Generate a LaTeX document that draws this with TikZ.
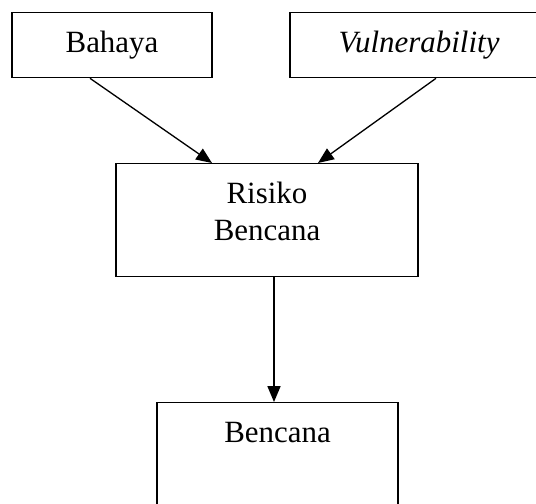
\documentclass[tikz,border=0pt]{standalone}
\usepackage{fontspec}
\setmainfont{Liberation Serif}
\usepackage{tikz}
\usetikzlibrary{arrows.meta}

\tikzset{
  box/.style={draw, line width=0.75pt, rectangle, anchor=north, inner sep=0pt,
    text height=0.8cm, align=center,
    font=\fontsize{17.6}{21}\selectfont},
  link/.style={line width=0.75pt, -{Triangle[length=9pt,width=7.4pt]}}
}

\begin{document}
\begin{tikzpicture}
\useasboundingbox (0,0) rectangle (10.72,10.06);
\clip (0,0) rectangle (10.72,10.06);

\node[box, minimum width=4cm, text depth=0.5cm] (bahaya) at (2.24,9.82) {Bahaya};
\node[box, minimum width=5.16cm, text depth=0.5cm] (vuln) at (8.38,9.82) {\textit{Vulnerability}};
\node[box, minimum width=6.04cm, text depth=1.46cm] (risiko) at (5.34,6.80)
  {\begin{tabular}[t]{@{}c@{}}Risiko\\Bencana\end{tabular}};
\node[box, minimum width=4.82cm, text depth=2cm] (bencana) at (5.55,2.02) {Bencana};

\draw[link] ([xshift=-0.44cm]bahaya.south) -- ([xshift=-1.10cm]risiko.north);
\draw[link] ([xshift=0.34cm]vuln.south) -- ([xshift=1.02cm]risiko.north);
\draw[link] ([xshift=0.14cm]risiko.south) -- ([xshift=0.14cm]risiko.south |- bencana.north);
\end{tikzpicture}
\end{document}
